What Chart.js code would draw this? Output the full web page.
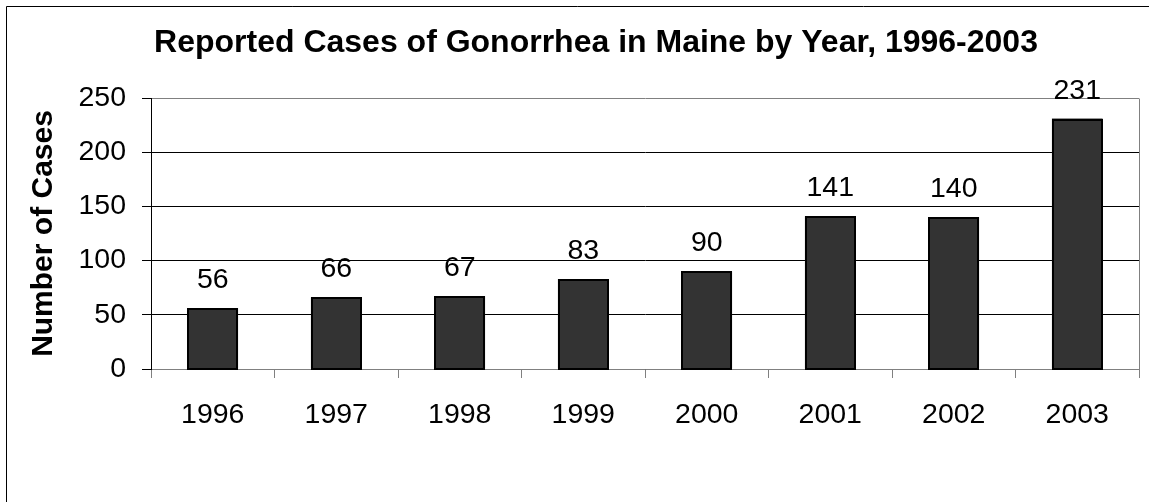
<!DOCTYPE html>
<html>
<head>
<meta charset="utf-8">
<title>Reported Cases of Gonorrhea in Maine by Year, 1996-2003</title>
<script src="https://cdn.jsdelivr.net/npm/chart.js@4/dist/chart.umd.min.js"></script>
<style>
    html, body { margin: 0; padding: 0; background: #fff; }
    canvas { display: block; }
</style>
</head>
<body>
<canvas id="casesChart" width="1149" height="502"></canvas>
<script>
// Chart data
const chartTitle = 'Reported Cases of Gonorrhea in Maine by Year, 1996-2003';
const yAxisTitle = 'Number of Cases';
const years = ['1996', '1997', '1998', '1999', '2000', '2001', '2002', '2003'];
const cases = [56, 66, 67, 83, 90, 141, 140, 231];
const yTicks = [0, 50, 100, 150, 200, 250];

const FONT = '"Liberation Sans", Arial, sans-serif';

// Bar outlines, title, frame lines and value labels above the bars
const decorations = {
    id: 'decorations',
    afterDatasetsDraw(chart) {
        const ctx = chart.ctx;
        const meta = chart.getDatasetMeta(0);
        ctx.save();
        // crisp black outline around each bar
        ctx.strokeStyle = '#000';
        ctx.lineWidth = 2;
        meta.data.forEach(bar => {
            const left = Math.round(bar.x - bar.width / 2);
            const right = Math.round(bar.x + bar.width / 2);
            const top = Math.round(bar.y);
            const bottom = Math.round(bar.base);
            ctx.strokeRect(left + 1, top + 1, right - left - 2, bottom - top - 1);
        });

        ctx.font = '28.5px ' + FONT;
        ctx.fillStyle = '#000';
        ctx.textAlign = 'center';
        ctx.textBaseline = 'alphabetic';
        meta.data.forEach((bar, i) => {
            ctx.fillText(String(cases[i]), bar.x, bar.y - 20);
        });
        ctx.restore();
    },
    afterDraw(chart) {
        const { ctx, chartArea } = chart;
        ctx.save();
        // right edge of the plot area
        ctx.strokeStyle = '#808080';
        ctx.lineWidth = 1;
        ctx.beginPath();
        const rx = Math.round(chartArea.right) + 0.5;
        ctx.moveTo(rx, Math.round(chartArea.top) + 0.5);
        ctx.lineTo(rx, Math.round(chartArea.bottom) + 0.5);
        ctx.stroke();

        // outer chart border (left and top only)
        ctx.strokeStyle = '#000';
        ctx.beginPath();
        ctx.moveTo(6.5, chart.height);
        ctx.lineTo(6.5, 6.5);
        ctx.lineTo(chart.width, 6.5);
        ctx.stroke();

        // chart title
        ctx.font = 'bold 32px ' + FONT;
        ctx.fillStyle = '#000';
        ctx.textAlign = 'center';
        ctx.textBaseline = 'alphabetic';
        ctx.fillText(chartTitle, 596, 52);
        ctx.restore();
    }
};

const chartCtx = document.getElementById('casesChart').getContext('2d');
const casesChart = new Chart(chartCtx, {
    type: 'bar',
    data: {
        labels: years,
        datasets: [{
            data: cases,
            backgroundColor: '#333333',
            borderWidth: 0,
            barPercentage: 0.41,
            categoryPercentage: 1
        }]
    },
    options: {
        responsive: false,
        animation: false,
        layout: {
            padding: { top: 98, right: 10, bottom: 0, left: 0 }
        },
        plugins: {
            legend: { display: false },
            title: { display: false },
            tooltip: { enabled: false }
        },
        scales: {
            x: {
                afterFit: scale => { scale.height = 133; },
                grid: {
                    offset: true,
                    drawOnChartArea: false,
                    color: '#808080',
                    tickLength: 9
                },
                border: { color: '#808080', width: 1 },
                ticks: {
                    color: '#000',
                    padding: 20,
                    font: { family: FONT, size: 28.5 }
                }
            },
            y: {
                min: yTicks[0],
                max: yTicks[yTicks.length - 1],
                afterFit: scale => { scale.width = 151; },
                ticks: {
                    stepSize: yTicks[1] - yTicks[0],
                    color: '#000',
                    padding: 16,
                    font: { family: FONT, size: 28.5 }
                },
                grid: {
                    color: c => (c.tick && c.tick.value === yTicks[yTicks.length - 1]) ? '#808080' : '#000',
                    tickColor: '#000',
                    tickLength: 9,
                    lineWidth: 1
                },
                border: { color: '#000', width: 1 },
                title: {
                    display: true,
                    text: yAxisTitle,
                    color: '#000',
                    padding: { top: 26, bottom: 0 },
                    font: { family: FONT, size: 30, weight: 'bold' }
                }
            }
        }
    },
    plugins: [decorations]
});
</script>
</body>
</html>
